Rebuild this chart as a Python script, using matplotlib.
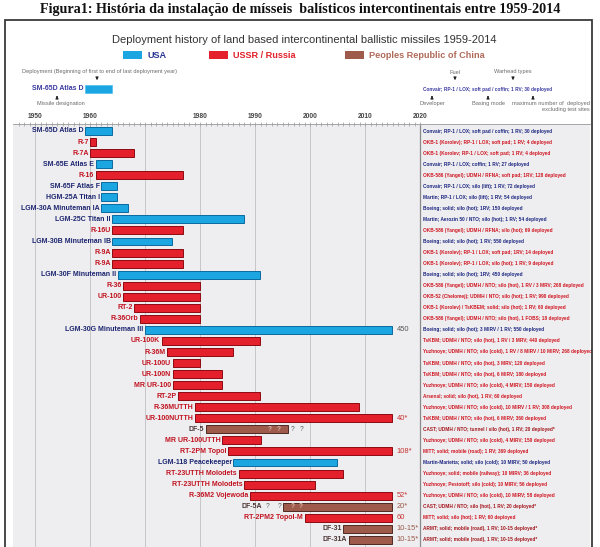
import matplotlib
matplotlib.use('Agg')
import matplotlib.pyplot as plt
from matplotlib.patches import Rectangle, FancyArrowPatch
from matplotlib import font_manager as fm

# ---------------- data ----------------
names = ["SM-65D Atlas D", "R-7", "R-7A", "SM-65E Atlas E", "R-16", "SM-65F Atlas F",
         "HGM-25A Titan I", "LGM-30A Minuteman IA", "LGM-25C Titan II", "R-16U",
         "LGM-30B Minuteman IB", "R-9A", "R-9A", "LGM-30F Minuteman II", "R-36",
         "UR-100", "RT-2", "R-36Orb", "LGM-30G Minuteman III", "UR-100K", "R-36M",
         "UR-100U", "UR-100N", "MR UR-100", "RT-2P", "R-36MUTTH", "UR-100NUTTH",
         "DF-5", "MR UR-100UTTH", "RT-2PM Topol", "LGM-118 Peacekeeper",
         "RT-23UTTH Molodets", "RT-23UTTH Molodets", "R-36M2 Vojewoda", "DF-5A",
         "RT-2PM2 Topol-M", "DF-31", "DF-31A"]
country = ["US", "SU", "SU", "US", "SU", "US", "US", "US", "US", "SU",
           "US", "SU", "SU", "US", "SU", "SU", "SU", "SU", "US", "SU", "SU",
           "SU", "SU", "SU", "SU", "SU", "SU", "CN", "SU", "SU", "US",
           "SU", "SU", "SU", "CN", "SU", "CN", "CN"]
start_year = [1959, 1960, 1960, 1961, 1961, 1962, 1962, 1962, 1964, 1964,
              1964, 1964, 1964, 1965, 1966, 1966, 1968, 1969, 1970, 1973, 1974,
              1975, 1975, 1975, 1976, 1979, 1979, 1981, 1984, 1985, 1986,
              1987, 1988, 1989, 1995, 1999, 2006, 2007]
end_year = [1964, 1961, 1968, 1964, 1977, 1965, 1965, 1967, 1988, 1977,
            1975, 1977, 1977, 1991, 1980, 1980, 1980, 1980, 2015, 1991, 1986,
            1980, 1984, 1984, 1991, 2009, 2015, 1996, 1991, 2015, 2005,
            2006, 2001, 2015, 2015, 2015, 2015, 2015]
end_labels = ["", "", "", "", "", "", "", "", "", "",
              "", "", "", "", "", "", "", "", "450", "", "",
              "", "", "", "", "", "40*", "", "", "108*", "",
              "", "", "52*", "20*", "60", "10-15*", "10-15*"]
descriptions = [
    "Convair; RP-1 / LOX; soft pad / coffin; 1 RV; 30 deployed",
    "OKB-1 (Korolev); RP-1 / LOX; soft pad; 1 RV; 4 deployed",
    "OKB-1 (Korolev; RP-1 / LOX; soft pad; 1 RV; 4 deployed",
    "Convair; RP-1 / LOX; coffin; 1 RV; 27 deployed",
    "OKB-586 (Yangel); UDMH / RFNA; soft pad; 1RV; 128 deployed",
    "Convair; RP-1 / LOX; silo (lift); 1 RV; 72 deployed",
    "Martin; RP-1 / LOX; silo (lift); 1 RV; 54 deployed",
    "Boeing; solid; silo (hot); 1RV; 150 deployed",
    "Martin; Aerozin 50 / NTO; silo (hot); 1 RV; 54 deployed",
    "OKB-586 (Yangel); UDMH / RFNA; silo (hot); 69 deployed",
    "Boeing; solid; silo (hot); 1 RV; 550 deployed",
    "OKB-1 (Korolev); RP-1 / LOX; soft pad; 1RV; 14 deployed",
    "OKB-1 (Korolev); RP-1 / LOX; silo (hot); 1 RV; 9 deployed",
    "Boeing; solid; silo (hot); 1RV; 450 deployed",
    "OKB-586 (Yangel); UDMH / NTO; silo (hot), 1 RV / 3 MRV; 268 deployed",
    "OKB-52 (Chelomej); UDMH / NTO; silo (hot); 1 RV; 990 deployed",
    "OKB-1 (Korolev) / TsKBEM; solid; silo (hot); 1 RV; 60 deployed",
    "OKB-586 (Yangel); UDMH / NTO; silo (hot), 1 FOBS; 18 deployed",
    "Boeing; solid; silo (hot); 3 MIRV / 1 RV; 550 deployed",
    "TsKBM; UDMH / NTO; silo (hot), 1 RV / 3 MRV; 440 deployed",
    "Yuzhnoye; UDMH / NTO; silo (cold), 1 RV / 8 MIRV / 10 MIRV; 268 deployed",
    "TsKBM; UDMH / NTO; silo (hot), 3 MRV; 120 deployed",
    "TsKBM; UDMH / NTO; silo (hot), 6 MIRV; 180 deployed",
    "Yuzhnoye; UDMH / NTO; silo (cold), 4 MIRV; 150 deployed",
    "Arsenal; solid; silo (hot), 1 RV; 60 deployed",
    "Yuzhnoye; UDMH / NTO; silo (cold), 10 MIRV / 1 RV; 308 deployed",
    "TsKBM; UDMH / NTO; silo (hot), 6 MIRV; 360 deployed",
    "CAST; UDMH / NTO; tunnel / silo (hot), 1 RV; 20 deployed*",
    "Yuzhnoye; UDMH / NTO; silo (cold), 4 MIRV; 150 deployed",
    "MITT; solid; mobile (road); 1 RV; 369 deployed",
    "Martin-Marietta; solid; silo (cold); 10 MIRV; 50 deployed",
    "Yuzhnoye; solid; mobile (railway); 10 MIRV; 36 deployed",
    "Yuzhnoye; Pestotoff; silo (cold); 10 MIRV; 56 deployed",
    "Yuzhnoye; UDMH / NTO; silo (cold), 10 MIRV; 58 deployed",
    "CAST; UDMH / NTO; silo (hot), 1 RV; 20 deployed*",
    "MITT; solid; silo (hot); 1 RV; 60 deployed",
    "ARMT; solid; mobile (road), 1 RV; 10-15 deployed*",
    "ARMT; solid; mobile (road), 1 RV; 10-15 deployed*",
]
# uncertain years marked with "?" : (row, year, inside_bar)
question_marks = [(27, 1992.7, True), (27, 1994.4, True), (27, 1996.8, False), (27, 1998.4, False),
                  (34, 1992.3, False), (34, 1994.4, False), (34, 1996.8, True), (34, 1998.4, True)]
label_anchor_override = {34: 1991.5}
tick_years = [1950, 1960, 1970, 1980, 1990, 2000, 2010, 2020]
tick_labels = ["1950", "1960", "", "1980", "1990", "2000", "2010", "2020"]
legend_names = ["USA", "USSR / Russia", "Peoples Republic of China"]

# ---------------- styles ----------------
fill = {"US": "#1ba6e1", "SU": "#e3202b", "CN": "#9e5b4c"}
edge = {"US": "#0b6a9e", "SU": "#8e0a12", "CN": "#4e2a22"}
name_col = {"US": "#1c2570", "SU": "#c1121f", "CN": "#4a3232"}
desc_col = {"US": "#1c2580", "SU": "#d0141f", "CN": "#a3161c"}
endlab_col = {"US": "#555555", "SU": "#c83232", "CN": "#9a5a4a"}

W, H = 600, 547
fig = plt.figure(figsize=(W / 100, H / 100), dpi=100)
fig.patch.set_facecolor("white")


def fx(x):
    return x / W


def fy(y):
    return 1 - y / H


try:
    fm.findfont("Liberation Sans Narrow", fallback_to_default=False)
    narrow, title_size = "Liberation Sans Narrow", 9.4
except Exception:
    narrow, title_size = "Liberation Sans", 8.0

SANS = "Liberation Sans"

# figure caption
fig.text(0.5, fy(9), "Figura1: História da instalação de mísseis  balísticos intercontinentais entre 1959-2014",
         ha="center", va="center", fontsize=10.2, fontweight="bold", family="Liberation Serif", color="#111111")

# outer frame
fig.add_artist(Rectangle((fx(5), -0.02), fx(592) - fx(5), fy(20) + 0.02, transform=fig.transFigure,
                         fill=False, ec="#3a3a3a", lw=1.3))

# chart title
fig.text(fx(304), fy(40), "Deployment history of land based intercontinental ballistic missiles 1959-2014",
         ha="center", va="center", fontsize=title_size, family=narrow, color="#333333")

# legend
leg_x = [123, 209, 345]
leg_txt_col = ["#2a3592", "#e0202a", "#b06a5a"]
for lx, key, txt, tc in zip(leg_x, ["US", "SU", "CN"], legend_names, leg_txt_col):
    fig.add_artist(Rectangle((fx(lx), fy(58.5)), 19 / W, 8 / H, transform=fig.transFigure,
                             fc=fill[key], ec="none"))
    fig.text(fx(lx + 24), fy(55), txt, ha="left", va="center", fontsize=6.6, fontweight="bold",
             family=SANS, color=tc)

# main axes
x0 = 1950 + (13 - 35) / 5.5
x1 = 1950 + (590 - 35) / 5.5
ax = fig.add_axes([fx(13), 0, fx(590) - fx(13), 1 - 124 / H])
ax.set_xlim(x0, x1)
ytop = -7 / 11.05
ax.set_ylim(ytop + 423 / 11.05, ytop)
ax.set_facecolor("#eeeef0")
for s in ["left", "right", "bottom"]:
    ax.spines[s].set_visible(False)
ax.spines["top"].set_color("#9a9a9a")
ax.spines["top"].set_linewidth(0.6)

ax.xaxis.tick_top()
ax.set_xticks(tick_years)
ax.set_xticklabels(tick_labels)
ax.set_xticks(list(range(1947, 2020)), minor=True)
ax.tick_params(axis="x", which="both", direction="inout", length=3, width=0.5, color="#9a9a9a",
               top=True, bottom=False, labeltop=True, labelbottom=False, pad=1.5)
ax.tick_params(axis="x", which="major", labelsize=4.8, labelcolor="#444444")
for lab in ax.get_xticklabels():
    lab.set_fontweight("bold")
    lab.set_family(SANS)
ax.set_yticks([])

for yr in tick_years[:-1]:
    ax.axvline(yr, color="#c6c6c8", lw=0.7, zorder=0)
ax.axvline(2020, color="#8a8a8a", lw=0.9, zorder=1)

rows = list(range(len(names)))
widths = [e - s for s, e in zip(start_year, end_year)]
ax.barh(rows, widths, left=start_year, height=0.72,
        color=[fill[c] for c in country], edgecolor=[edge[c] for c in country],
        linewidth=0.7, zorder=2)

for i in rows:
    c = country[i]
    anchor = label_anchor_override.get(i, start_year[i])
    ax.text(anchor - 0.25, i, names[i], ha="right", va="center", fontsize=5, fontweight="bold",
            family=SANS, color=name_col[c], zorder=3)
    if end_labels[i]:
        ax.text(end_year[i] + 0.7, i, end_labels[i], ha="left", va="center", fontsize=5.4,
                family=SANS, color=endlab_col[c], zorder=3)
    ax.text(2020.5, i, descriptions[i], ha="left", va="center", fontsize=3.4, fontweight="bold",
            family=SANS, color=desc_col[c], zorder=3)

for r, yr, inside in question_marks:
    ax.text(yr, r, "?", ha="center", va="center", fontsize=4.8, fontweight="bold" if inside else "normal",
            family=SANS, color="#d8b4a8" if inside else "#555555", zorder=3)

# example annotation at the top
ax_ex = fig.add_axes([fx(13), fy(97), fx(590) - fx(13), 16 / H])
ax_ex.set_xlim(x0, x1)
ax_ex.set_ylim(-1, 1)
ax_ex.axis("off")
ax_ex.barh([0], [end_year[0] - start_year[0]], left=[start_year[0]], height=1.0,
           color=fill["US"], edgecolor="#4cc0ee", linewidth=0.5)
ax_ex.text(start_year[0] - 0.25, 0, names[0], ha="right", va="center", fontsize=5, fontweight="bold",
           family=SANS, color="#3a3aa0")
ax_ex.text(2020.5, 0, descriptions[0], ha="left", va="center", fontsize=3.4, fontweight="bold",
           family=SANS, color="#3a3aa0")

gray = "#6a6a6a"
gs = 4.1
fig.text(fx(22), fy(72), "Deployment (Beginning of first to end of last deployment year)",
         ha="left", va="center", fontsize=gs, family=SANS, color=gray)
fig.text(fx(37), fy(104), "Missile designation", ha="left", va="center", fontsize=gs, family=SANS, color=gray)
fig.text(fx(455), fy(72), "Fuel", ha="center", va="center", fontsize=gs, family=SANS, color=gray)
fig.text(fx(513), fy(72), "Warhead types", ha="center", va="center", fontsize=gs, family=SANS, color=gray)
fig.text(fx(432), fy(104), "Developer", ha="center", va="center", fontsize=gs, family=SANS, color=gray)
fig.text(fx(488), fy(104), "Basing mode", ha="center", va="center", fontsize=gs, family=SANS, color=gray)
fig.text(fx(590), fy(104), "maximum number of  deployed", ha="right", va="center", fontsize=gs,
         family=SANS, color=gray)
fig.text(fx(590), fy(110), "excluding test sites", ha="right", va="center", fontsize=gs,
         family=SANS, color=gray)


def arrow(x, ya, yb):
    fig.add_artist(FancyArrowPatch((fx(x), fy(ya)), (fx(x), fy(yb)), transform=fig.transFigure,
                                   arrowstyle="-|>", mutation_scale=4, lw=0.7, color="#222222"))


arrow(97, 75, 83)
arrow(455, 75, 83)
arrow(513, 75, 83)
arrow(57, 100, 93)
arrow(432, 100, 93)
arrow(488, 100, 93)
arrow(533, 100, 93)

fig.savefig("out.png", dpi=100, facecolor="white")
